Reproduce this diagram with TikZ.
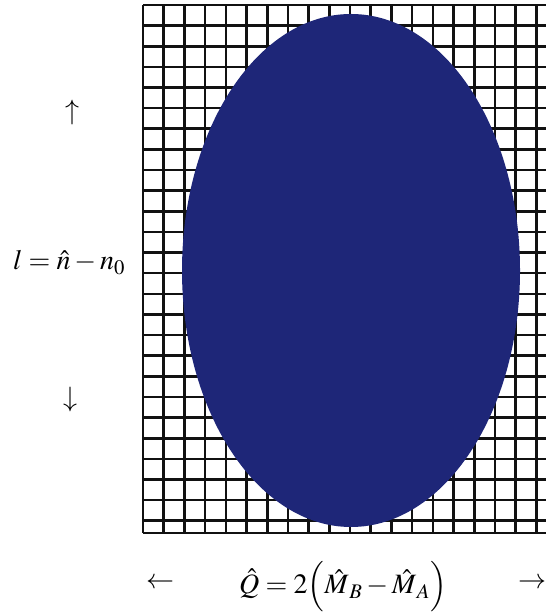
\documentclass[tikz,border=0pt]{standalone}
\usepackage{mathptmx}
\usetikzlibrary{positioning}
\definecolor{navyfill}{HTML}{1E2678}
\definecolor{gridblack}{HTML}{111111}

\begin{document}
\begin{tikzpicture}[x=1pt, y=1pt,
  gridline/.style={gridblack, line width=2.6pt},
  mathlabel/.style={font=\fontsize{28}{32}\selectfont, inner sep=0pt}]

\useasboundingbox (0,0) rectangle (546,612);
\clip (0,0) rectangle (546,612);

%%% Grid %%%
% horizontal lines
\foreach \k in {0,...,25}
  \draw[gridline] (143,{607-\k*20.63}) -- (546,{607-\k*20.63});
\draw[gridline] (143,79) -- (546,79);
% vertical lines
\foreach \k in {0,...,19}
  \draw[gridline] ({143+\k*20.7},607) -- ({143+\k*20.7},79);

%%% Ellipse %%%
\fill[navyfill] (351,341.5) ellipse (169 and 256.5);

%%% Vertical axis label %%%
\node[mathlabel, anchor=base] (nlabel) at (69,342) {$l=\hat{n}-n_0$};
\node[mathlabel] (uparr) at (72,500) {$\uparrow$};
\node[mathlabel] (downarr) at (70,213) {$\downarrow$};

%%% Horizontal axis label %%%
\node[mathlabel, anchor=base] (qlabel) at (343,18) {$\hat{Q}=2\Bigl(\hat{M}_{\,B}-\hat{M}_{\,A}\Bigr)$};
\node[mathlabel] (leftarr) at (160,29) {$\leftarrow$};
\node[mathlabel] (rightarr) at (532,29) {$\rightarrow$};

\end{tikzpicture}
\end{document}
